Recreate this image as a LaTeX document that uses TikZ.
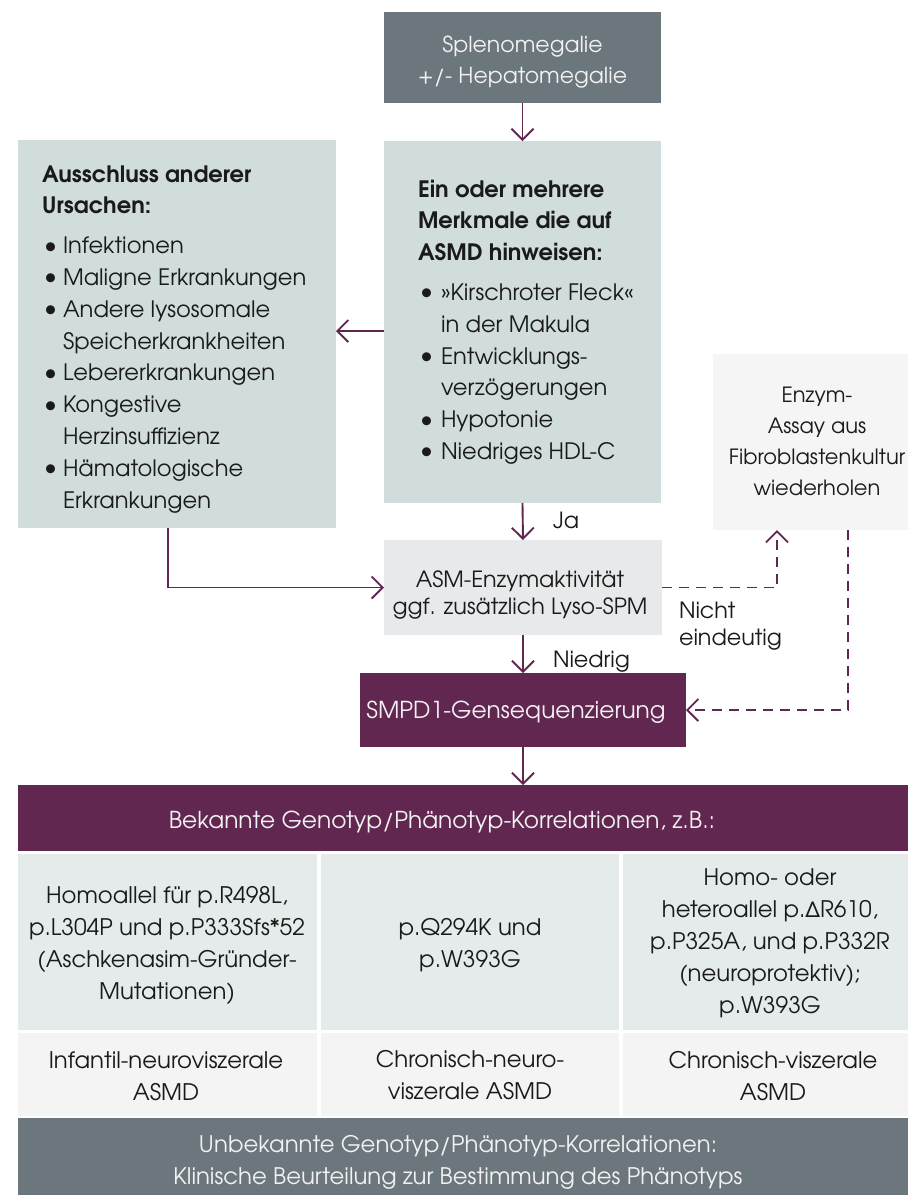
\documentclass[tikz,border=0pt]{standalone}
\usepackage{fontspec}
\setmainfont{texgyreadventor}[Extension=.otf,UprightFont=*-regular,BoldFont=*-bold,ItalicFont=*-italic,BoldItalicFont=*-bolditalic]
\usetikzlibrary{arrows.meta,calc}
\definecolor{dgray}{HTML}{6B767D}
\definecolor{purp}{HTML}{622751}
\definecolor{lblue}{HTML}{D1DCDC}
\definecolor{lgray}{HTML}{E8E9EA}
\definecolor{wgray}{HTML}{F5F5F5}
\definecolor{rowa}{HTML}{E5EAEA}
\definecolor{rowb}{HTML}{F4F4F4}
\definecolor{ink}{HTML}{1A1A1A}
\definecolor{wtxt}{HTML}{F2F2F2}
\newcommand\fbody{\fontsize{22.6}{31.8}\selectfont}
\newcommand\ftop{\fontsize{22}{31}\selectfont}
\newcommand\fenz{\fontsize{21}{31}\selectfont}
\newcommand\fasm{\fontsize{22.3}{27.8}\selectfont}
\newcommand\fsmpd{\fontsize{23.3}{28}\selectfont}
\newcommand\ftab{\fontsize{22.8}{32}\selectfont}
\newcommand\fhdr{\fontsize{23.3}{32}\selectfont}
\newcommand\ctab[1]{\begin{tabular}[t]{@{}c@{}}#1\end{tabular}}
\newcommand\bul[1][21pt]{\makebox[#1][l]{\hspace{2pt}\raisebox{0.5pt}{\fontsize{25}{25}\selectfont\textbullet}}}
\begin{document}
\begin{tikzpicture}[x=1pt,y=-1pt,
  box/.style={inner sep=0pt, outer sep=0pt, draw=none},
  txt/.style={inner sep=0pt, outer sep=0pt, text=ink, font=\fbody},
  wtx/.style={txt, text=wtxt},
  arr/.style={draw=purp, line width=1.9pt, -{Straight Barb[length=11pt,width=22pt]}},
  dsh/.style={arr, dash pattern=on 10pt off 7pt}]
\useasboundingbox[fill=white] (0,0) rectangle (908,1195);

% boxes
\node[box, fill=dgray, minimum width=277, minimum height=91] (top) at (522.5,57.5) {};
\node[box, fill=lblue, minimum width=277, minimum height=362] (mid) at (522.5,322) {};
\node[box, fill=lblue, minimum width=318, minimum height=388] (left) at (177,334) {};
\node[box, fill=wgray, minimum width=208, minimum height=176] (enz) at (817,442) {};
\node[box, fill=lgray, minimum width=278, minimum height=95] (asm) at (523,587.5) {};
\node[box, fill=purp, minimum width=326, minimum height=74] (smpd) at (523,710) {};

% table
\node[box, fill=purp, minimum width=890, minimum height=66] (hdr) at (463,818) {};
\node[box, fill=rowa, minimum width=299, minimum height=176] (c11) at (167.5,942) {};
\node[box, fill=rowa, minimum width=298, minimum height=176] (c12) at (470,942) {};
\node[box, fill=rowa, minimum width=297, minimum height=176] (c13) at (771.5,942) {};
\node[box, fill=rowb, minimum width=299, minimum height=83] (c21) at (167.5,1074.5) {};
\node[box, fill=rowb, minimum width=298, minimum height=83] (c22) at (470,1074.5) {};
\node[box, fill=rowb, minimum width=297, minimum height=83] (c23) at (771.5,1074.5) {};
\node[box, fill=dgray, minimum width=900, minimum height=80] (bot) at (468,1158) {};

% texts
\node[wtx, font=\ftop, anchor=base] (toptx) at (522.5,52) {\ctab{Splenomegalie\\+/- Hepatomegalie}};
\node[txt, anchor=base west] (lefttx) at (42,182) {\begin{tabular}[t]{@{}l@{}l@{}}
\multicolumn{2}{@{}l@{}}{\bfseries Ausschluss anderer}\\
\multicolumn{2}{@{}l@{}}{\bfseries Ursachen:}\\[8pt]
\bul & Infektionen\\
\bul & Maligne Erkrankungen\\
\bul & Andere lysosomale\\
 & Speicherkrankheiten\\
\bul & Lebererkrankungen\\
\bul & Kongestive\\
 & Herzinsuffizienz\\
\bul & Hämatologische\\
 & Erkrankungen
\end{tabular}};
\node[txt, anchor=base west] (midtx) at (418,197) {\begin{tabular}[t]{@{}l@{}l@{}}
\multicolumn{2}{@{}l@{}}{\bfseries Ein oder mehrere}\\
\multicolumn{2}{@{}l@{}}{\bfseries Merkmale die auf}\\
\multicolumn{2}{@{}l@{}}{\bfseries ASMD hinweisen:}\\[8pt]
\bul[23pt] & »Kirschroter Fleck«\\
 & in der Makula\\
\bul[23pt] & Entwicklungs-\\
 & verzögerungen\\
\bul[23pt] & Hypotonie\\
\bul[23pt] & Niedriges HDL-C
\end{tabular}};
\node[txt, font=\fenz, anchor=base] (enztx) at (817,402) {\ctab{Enzym-\\Assay aus\\Fibroblastenkultur\\wiederholen}};
\node[txt, font=\fasm, anchor=base] (asmtx) at (520,587) {\ctab{ASM-Enzymaktivität\\ggf. zusätzlich Lyso-SPM}};
\node[wtx, font=\fsmpd, anchor=base] (smpdtx) at (516,718) {SMPD1-Gensequenzierung};
\node[txt, font=\fasm, anchor=base west] (ja) at (553,528) {Ja};
\node[txt, font=\fasm, anchor=base west] (nied) at (553,667) {Niedrig};
\node[txt, font=\fasm, anchor=base west] (nicht) at (679,618) {\begin{tabular}[t]{@{}l@{}}Nicht\\eindeutig\end{tabular}};

\node[wtx, font=\fhdr, anchor=base] (hdrtx) at (442,828) {Bekannte Genotyp/Phänotyp-Korrelationen, z.B.:};
\node[txt, font=\ftab, anchor=base] (t11) at (167,903) {\ctab{Homoallel für p.R498L,\\p.L304P und p.P333Sfs*52\\(Aschkenasim-Gründer-\\Mutationen)}};
\node[txt, font=\ftab, anchor=base] (t12) at (470,935) {\ctab{p.Q294K und\\p.W393G}};
\node[txt, font=\ftab, anchor=base] (t13) at (770,885) {\ctab{Homo- oder\\heteroallel p.ΔR610,\\p.P325A, und p.P332R\\(neuroprotektiv);\\p.W393G}};
\node[txt, font=\ftab, anchor=base] (t21) at (166,1068) {\ctab{Infantil-neuroviszerale\\ASMD}};
\node[txt, font=\ftab, anchor=base] (t22) at (470,1067) {\ctab{Chronisch-neuro-\\viszerale ASMD}};
\node[txt, font=\ftab, anchor=base] (t23) at (773,1068) {\ctab{Chronisch-viszerale\\ASMD}};
\node[wtx, font=\ftab, anchor=base] (bottx) at (458,1152) {\ctab{Unbekannte Genotyp/Phänotyp-Korrelationen:\\Klinische Beurteilung zur Bestimmung des Phänotyps}};

% connectors
\draw[arr] (top.south) -- (mid.north);
\draw[arr] (mid.west |- 0,331) -- (left.east |- 0,331);
\draw[arr] (mid.south) -- (asm.north);
\draw[arr] ([xshift=-9pt]left.south) |- (asm.west);
\draw[dsh] (asm.east) -| ([xshift=-40pt]enz.south);
\draw[arr] (asm.south) -- (smpd.north);
\draw[dsh] ([xshift=31pt]enz.south) |- (smpd.east);
\draw[arr] (smpd.south) -- (smpd.south |- hdr.north);
\end{tikzpicture}
\end{document}
